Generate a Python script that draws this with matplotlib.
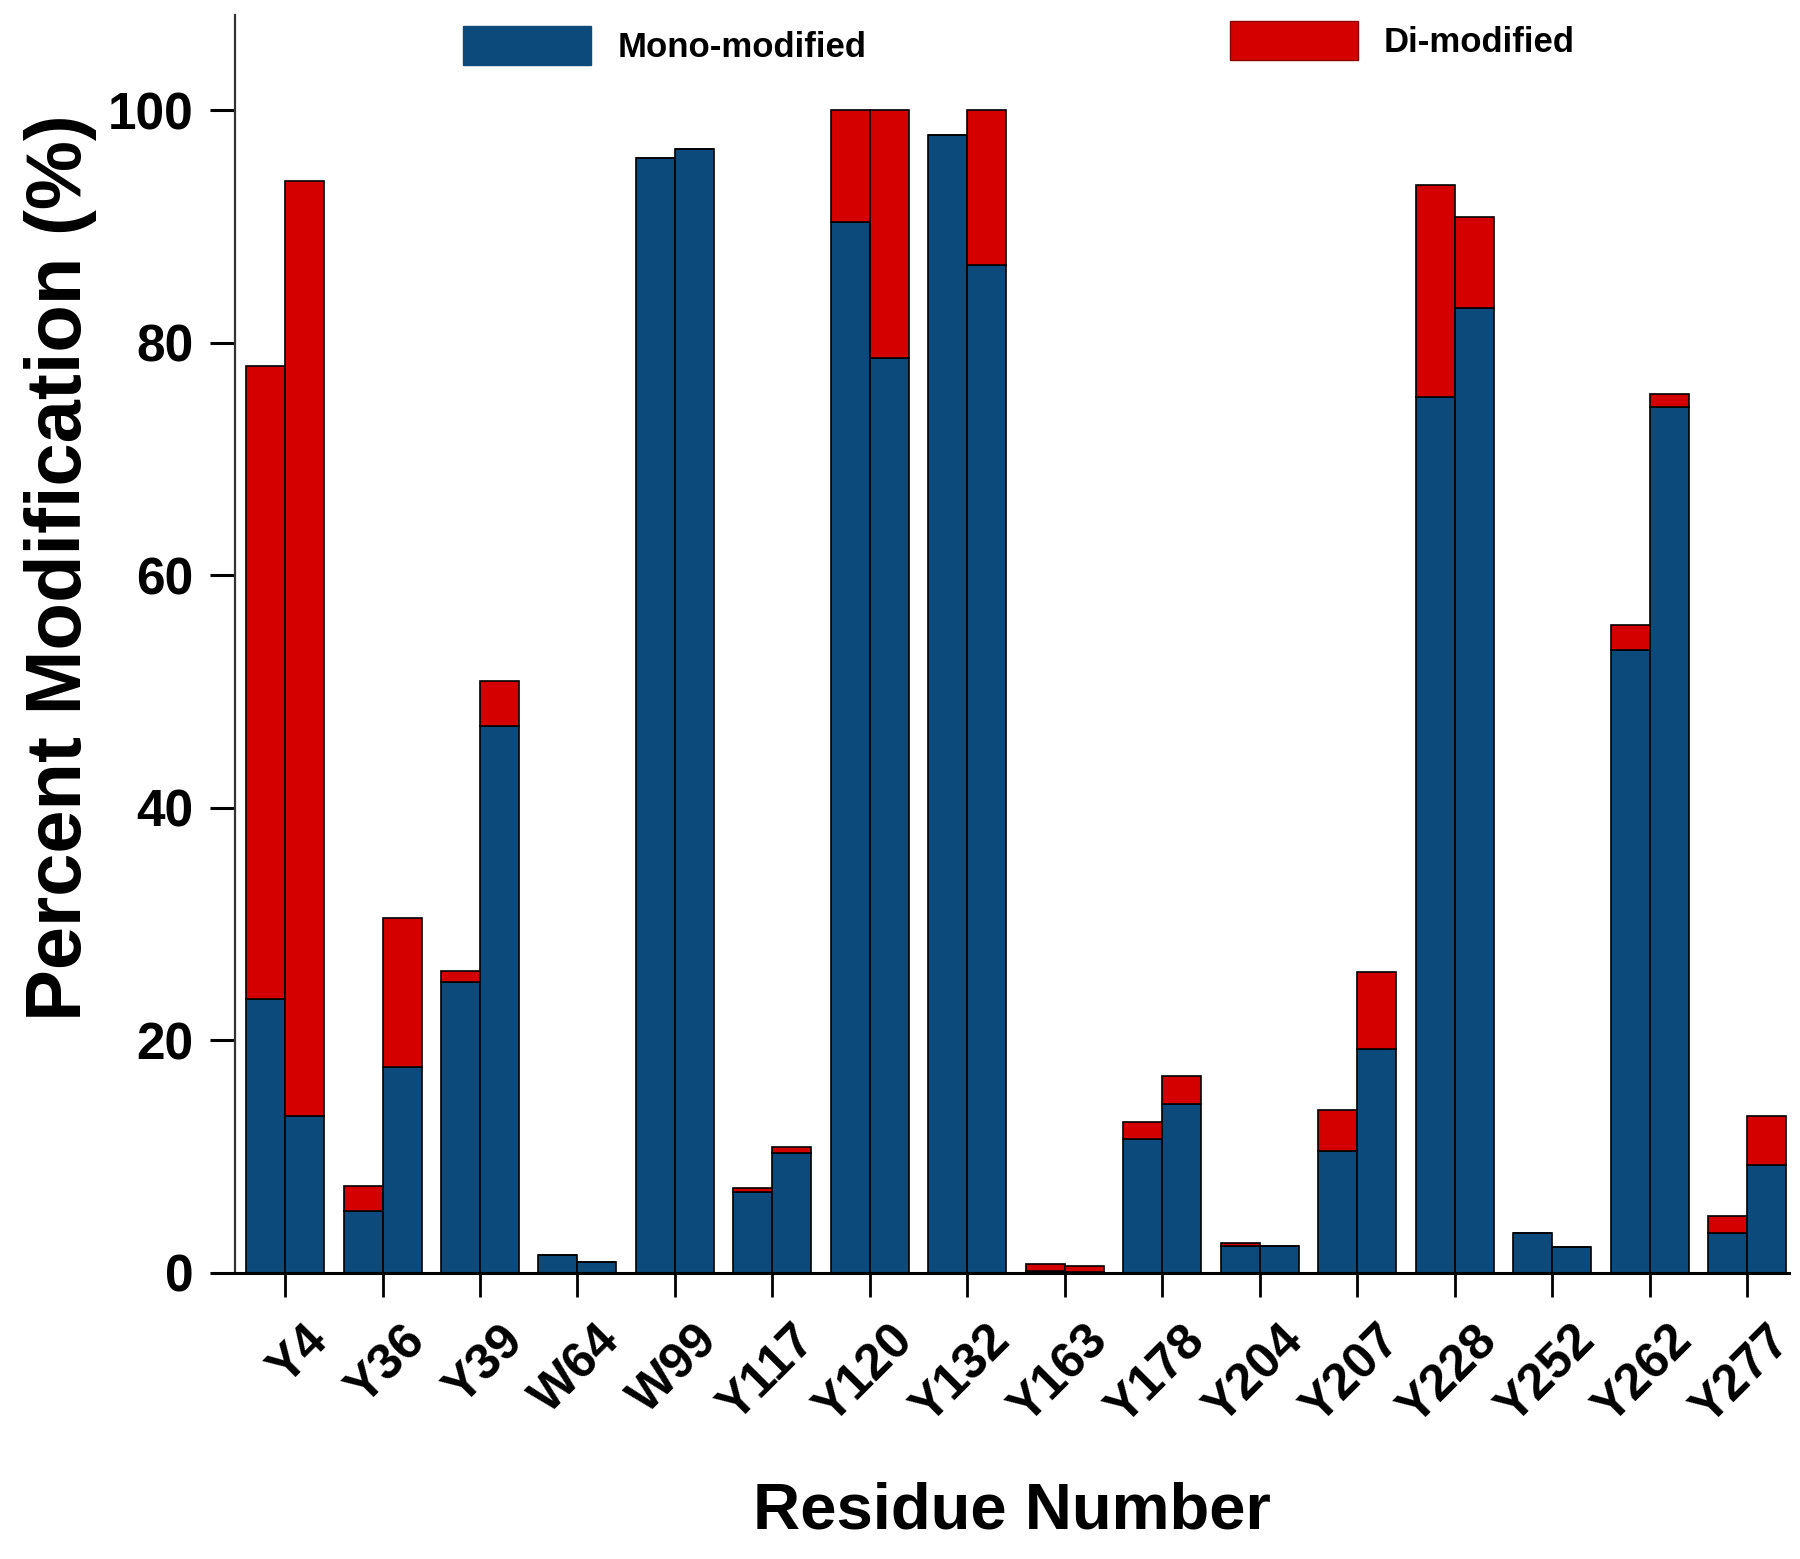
import matplotlib
matplotlib.use("Agg")
import matplotlib.pyplot as plt
from matplotlib.patches import Patch
import matplotlib.transforms as mtransforms
import numpy as np

plt.rcParams['font.family'] = ['Liberation Sans', 'DejaVu Sans']
plt.rcParams['font.weight'] = 'bold'

residues = ["Y4", "Y36", "Y39", "W64", "W99", "Y117", "Y120", "Y132",
            "Y163", "Y178", "Y204", "Y207", "Y228", "Y252", "Y262", "Y277"]

# first bar of each pair
mono_a = [23.6, 5.3, 25.0, 1.5, 95.9, 7.0, 90.4, 97.9,
          0.2, 11.5, 2.3, 10.5, 75.3, 3.4, 53.6, 3.4]
di_a = [54.4, 2.2, 1.0, 0.0, 0.0, 0.3, 9.6, 0.0,
        0.6, 1.5, 0.3, 3.5, 18.3, 0.0, 2.1, 1.5]
# second bar of each pair
mono_b = [13.5, 17.7, 47.0, 0.9, 96.7, 10.3, 78.7, 86.7,
          0.1, 14.5, 2.3, 19.3, 83.0, 2.2, 74.5, 9.3]
di_b = [80.4, 12.8, 3.9, 0.0, 0.0, 0.5, 21.3, 13.3,
        0.5, 2.4, 0.0, 6.6, 7.8, 0.0, 1.1, 4.2]

blue = "#0B4A7B"
red = "#D40000"

fig = plt.figure(figsize=(18, 15.59), dpi=100)
ax = fig.add_axes([0.1306, 0.1835, 0.8633, 0.8069])

x = np.arange(len(residues))
w = 0.4
ekw = dict(edgecolor="black", linewidth=1.2)
ax.bar(x - w / 2, mono_a, w, color=blue, **ekw)
ax.bar(x - w / 2, di_a, w, bottom=mono_a, color=red, **ekw)
ax.bar(x + w / 2, mono_b, w, color=blue, **ekw)
ax.bar(x + w / 2, di_b, w, bottom=mono_b, color=red, **ekw)

ax.set_xlim(-0.513, 15.43)
ax.set_ylim(0, 108.2)
ax.set_yticks([0, 20, 40, 60, 80, 100])

for s in ["top", "right"]:
    ax.spines[s].set_visible(False)
ax.spines["left"].set_linewidth(1.6)
ax.spines["left"].set_color("#333333")
ax.spines["bottom"].set_linewidth(2.2)

ax.tick_params(axis="y", direction="out", length=18, width=2.2, pad=12,
               labelsize=37)
ax.tick_params(axis="x", direction="out", length=17, width=2.0, pad=15,
               labelsize=36)
ax.set_xticks(x)
ax.set_xticklabels(residues, rotation=45, ha="right", va="top",
                   rotation_mode="anchor", fontweight="bold")
offset = mtransforms.ScaledTranslation(0.19, 0, fig.dpi_scale_trans)
for lab in ax.get_xticklabels():
    lab.set_transform(lab.get_transform() + offset)
for lab in ax.get_yticklabels():
    lab.set_fontweight("bold")

ax.set_xlabel("Residue Number", fontsize=47, fontweight="bold")
ax.xaxis.set_label_coords(0.5, -0.166)
ax.set_ylabel("Percent Modification (%)", fontsize=56, fontweight="bold")
ax.yaxis.set_label_coords(-0.089, 0.561)

h_mono = Patch(facecolor=blue, edgecolor=blue, label="Mono-modified")
h_di = Patch(facecolor=red, edgecolor="#8B0000", label="Di-modified")
leg1 = fig.legend(handles=[h_mono], loc="upper left",
                  bbox_to_anchor=(0.2572, 0.9833), frameon=False,
                  handlelength=3.69, handleheight=1.35,
                  handletextpad=0.75, borderpad=0, borderaxespad=0,
                  prop={"weight": "bold", "size": 25})
leg2 = fig.legend(handles=[h_di], loc="upper left",
                  bbox_to_anchor=(0.6833, 0.9865), frameon=False,
                  handlelength=3.69, handleheight=1.35,
                  handletextpad=0.75, borderpad=0, borderaxespad=0,
                  prop={"weight": "bold", "size": 25})

fig.savefig("out.png", dpi=100, facecolor="white")
